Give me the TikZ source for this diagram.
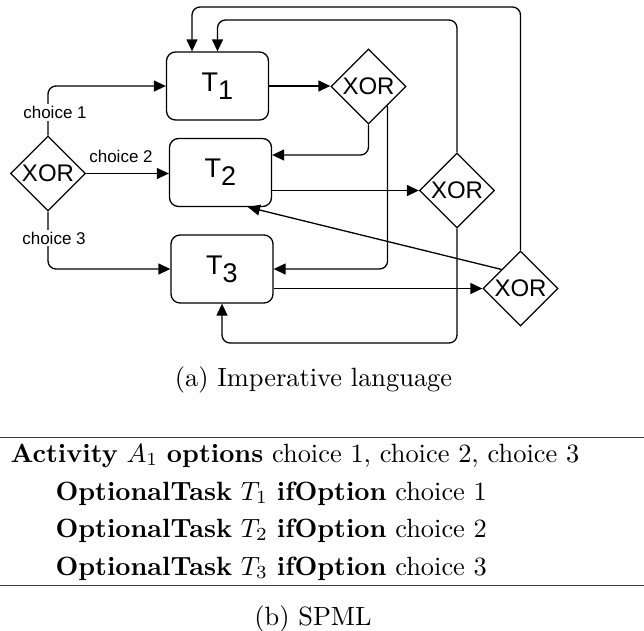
\documentclass[tikz,border=0pt]{standalone}
\usepackage{fontspec}
\newfontfamily\drawfont{Liberation Sans}
\usetikzlibrary{shapes.geometric,arrows.meta}

\begin{document}
\begin{tikzpicture}[x=1pt,y=-1pt,
    task/.style={draw,rounded corners=9pt,line width=1.3pt,minimum width=102pt,minimum height=68pt,inner sep=0pt,font=\drawfont\fontsize{27}{27}\selectfont},
    gate/.style={draw,diamond,line width=1.3pt,minimum width=75pt,minimum height=75pt,inner sep=0pt,font=\drawfont\fontsize{24}{24}\selectfont},
    flow/.style={line width=1.3pt,rounded corners=8pt,-{Triangle[length=12pt,width=11pt]}},
    choice/.style={fill=white,inner sep=2pt,font=\drawfont\fontsize{17}{17}\selectfont},
    caption/.style={scale=2.64,inner sep=0pt},
    rule/.style={line width=1pt,black!75}]
  \useasboundingbox (0,0) rectangle (644,630);

  \begin{scope}
    \node[gate] (x0) at (48,173.5) {XOR};
    \node[task] (t1) at (217.5,86) {T\raisebox{-8pt}{1}};
    \node[task] (t2) at (220.5,172.5) {T\raisebox{-8pt}{2}};
    \node[task] (t3) at (222,269) {T\raisebox{-8pt}{3}};
    \node[gate] (x1) at (368.5,86.5) {XOR};
    \node[gate] (x2) at (457,190.5) {XOR};
    \node[gate] (x3) at (520.5,288.5) {XOR};

    \draw[flow] (x0.north) |- (t1.west);
    \draw[flow] (x0.east) -- (x0.east -| t2.west);
    \draw[flow] (x0.south) |- (t3.west);
    \node[choice] (c1) at (55,112.5) {choice 1};
    \node[choice] (c2) at (121,156) {choice 2};
    \node[choice] (c3) at (54,238) {choice 3};

    \draw[flow] (t1.east) -- (t1.east -| x1.west);
    \draw[flow] (x1.south) |- (t2.east |- 0,155);
    \draw[flow] (x1.south east) |- (t3.east);
    \draw[flow] (t2.east |- x2.west) -- (x2.west);
    \draw[flow] (x2.north) -- (x2.north |- 0,20) -| (t1.north);
    \draw[flow] (x3.north) -- (x3.north |- 0,7) -| (t1.north -| 192,0);
    \draw[flow] (x2.south) -- (x2.south |- 0,343) -| (t3.south);
    \draw[flow] (t3.east |- x3.west) -- (x3.west);
    \draw[flow] (x3.north west) -- (t2.south -| 248,0);

    \node[caption,anchor=base] (capa) at (313.5,386) {(a) Imperative language};
  \end{scope}

  \begin{scope}
    \draw[rule] (0,437) -- (644,437);
    \node[caption,anchor=base west] (r0) at (10,462) {\textbf{Activity} $A_1$ \textbf{options} choice 1, choice 2, choice 3};
    \node[caption,anchor=base west] (r1) at (55,500) {\textbf{OptionalTask} $T_1$ \textbf{ifOption} choice 1};
    \node[caption,anchor=base west] (r2) at (55,537) {\textbf{OptionalTask} $T_2$ \textbf{ifOption} choice 2};
    \node[caption,anchor=base west] (r3) at (55,575) {\textbf{OptionalTask} $T_3$ \textbf{ifOption} choice 3};
    \draw[rule] (0,585) -- (644,585);
    \node[caption,anchor=base] (capb) at (313,625) {(b) SPML};
  \end{scope}
\end{tikzpicture}
\end{document}
